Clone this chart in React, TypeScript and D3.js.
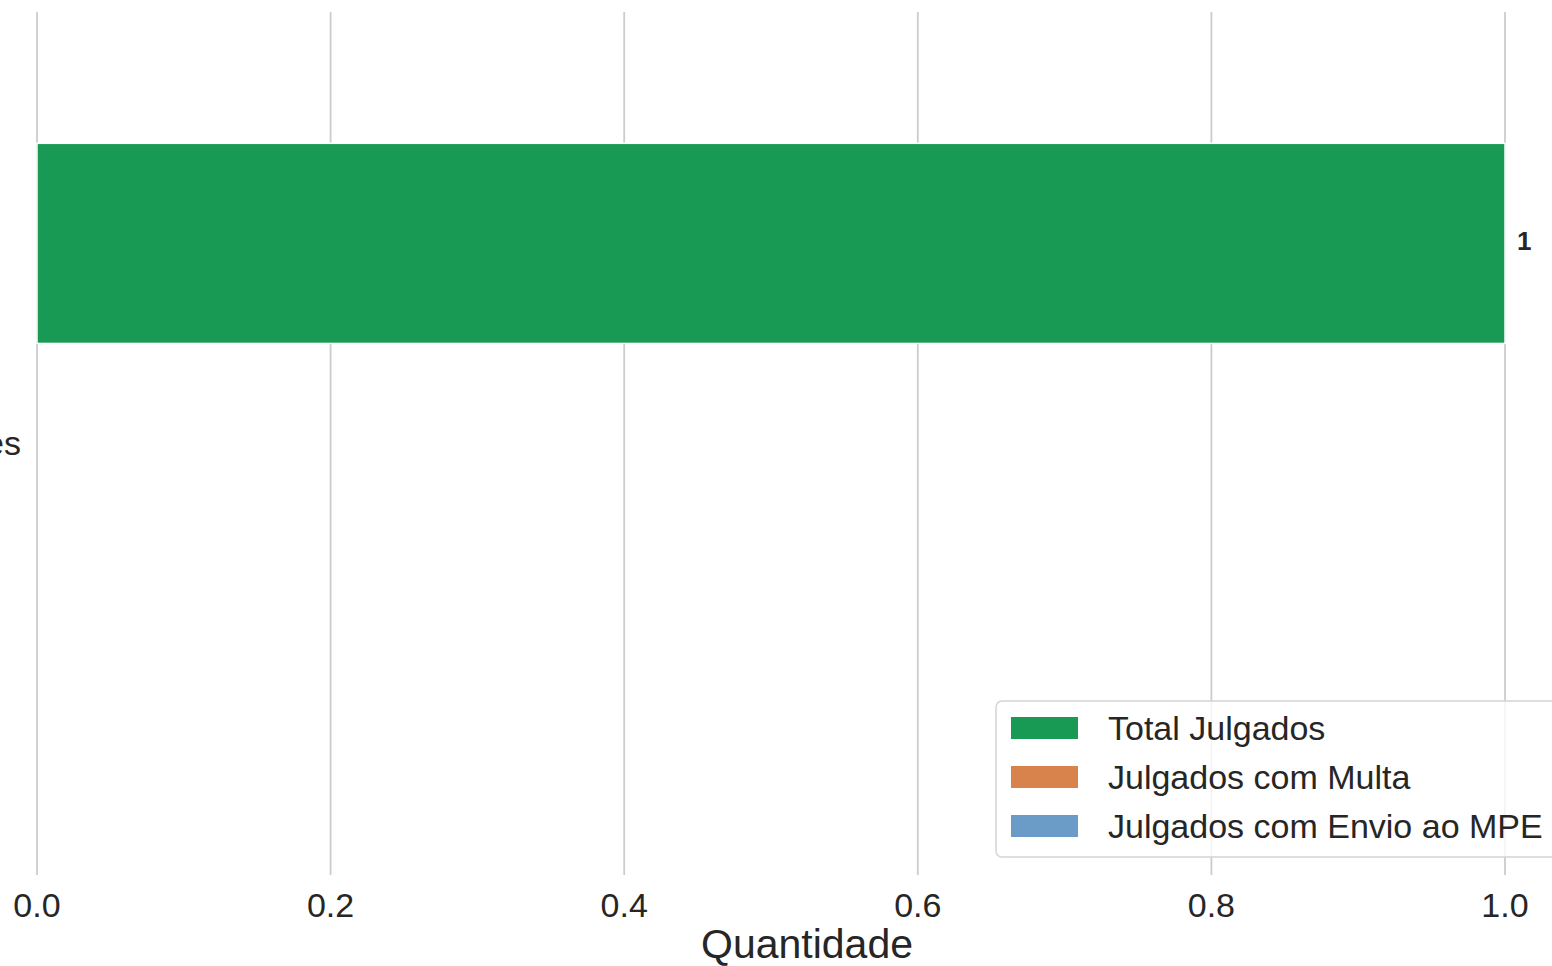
import React from "react";
import * as d3 from "d3";

const categories: string[] = ["Autarquias e Fundações"];
const seriesNames: string[] = ["Total Julgados", "Julgados com Multa", "Julgados com Envio ao MPE"];
const totalJulgados: number[] = [1];
const julgadosMulta: number[] = [0];
const julgadosEnvioMPE: number[] = [0];
const seriesColors: string[] = ["#189a54", "#d8834b", "#6b9cc8"];
const xTicks: number[] = [0, 0.2, 0.4, 0.6, 0.8, 1.0];

const W = 1552;
const H = 966;
const FONT = "'Liberation Sans', Arial, sans-serif";
const TXT = "#262626";

export default function App() {
  const left = 37, right = 1505, top = 12, bottom = 875;
  const x = d3.scaleLinear().domain([0, 1]).range([left, right]);
  const y = d3.scaleLinear().domain([-0.575, categories.length - 1 + 0.575]).range([top, bottom]);
  const values = [totalJulgados, julgadosMulta, julgadosEnvioMPE];
  const groupW = 0.8;
  const barW = groupW / values.length;

  const legendX = 996, legendY = 701, legendRowH = 49;

  return (
    <svg width={W} height={H} style={{ position: "absolute", left: 0, top: 0, display: "block", background: "#fff" }}>
      {/* grid */}
      {xTicks.map((t) => (
        <line key={"g" + t} x1={x(t)} x2={x(t)} y1={top} y2={bottom} stroke="#cccccc" strokeWidth={1.8} />
      ))}
      {/* bars */}
      {categories.map((c, ci) =>
        values.map((vals, si) => {
          const y0 = y(ci - groupW / 2 + si * barW);
          const y1 = y(ci - groupW / 2 + (si + 1) * barW);
          const w = x(vals[ci]) - x(0);
          return (
            <rect
              key={c + si}
              x={x(0)}
              y={y0}
              width={w}
              height={y1 - y0}
              fill={seriesColors[si]}
              stroke="#ffffff"
              strokeWidth={w > 0 ? 1.5 : 3}
            />
          );
        })
      )}
      {/* value labels */}
      {categories.map((c, ci) => {
        const yc = y(ci - groupW / 2 + barW / 2);
        return (
          <text key={"v" + c} x={x(totalJulgados[ci]) + 12} y={yc - 2} dy="0.35em" fontFamily={FONT} fontSize={26} fontWeight="bold" fill={TXT}>
            {d3.format("d")(totalJulgados[ci])}
          </text>
        );
      })}
      {/* y tick labels */}
      {categories.map((c, ci) => (
        <text key={"yl" + c} x={left - 16} y={y(ci)} dy="0.35em" textAnchor="end" fontFamily={FONT} fontSize={34} fill={TXT}>
          {c}
        </text>
      ))}
      {/* x tick labels */}
      {xTicks.map((t) => (
        <text key={"xl" + t} x={x(t)} y={917} textAnchor="middle" fontFamily={FONT} fontSize={34} fill={TXT}>
          {d3.format(".1f")(t)}
        </text>
      ))}
      <text x={(left + right) / 2 + 36} y={958} textAnchor="middle" fontFamily={FONT} fontSize={41} fill={TXT}>
        Quantidade
      </text>
      {/* legend */}
      <rect x={legendX} y={legendY} width={600} height={156} rx={6} ry={6} fill="#ffffff" fillOpacity={0.8} stroke="#d4d4d4" strokeWidth={1.5} />
      {seriesNames.map((name, i) => {
        const cy = legendY + 27 + i * legendRowH;
        return (
          <g key={"lg" + name}>
            <rect x={1011} y={cy - 11} width={67} height={22} fill={seriesColors[i]} />
            <text x={1108} y={cy} dy="0.35em" fontFamily={FONT} fontSize={34} fill={TXT}>
              {name}
            </text>
          </g>
        );
      })}
    </svg>
  );
}
